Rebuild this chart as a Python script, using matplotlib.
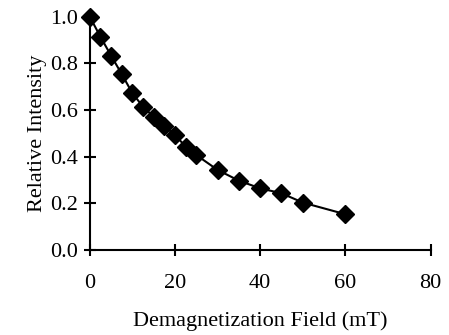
import matplotlib
matplotlib.use("Agg")
import matplotlib.pyplot as plt

field = [0, 2.5, 5, 7.5, 10, 12.5, 15, 17.5, 20, 22.5, 25, 30, 35, 40, 45, 50, 60]
intensity = [1.0, 0.914, 0.833, 0.754, 0.672, 0.614, 0.571, 0.531, 0.493,
             0.443, 0.407, 0.343, 0.297, 0.264, 0.243, 0.203, 0.153]
xticks = [0, 20, 40, 60, 80]
yticks = [0.0, 0.2, 0.4, 0.6, 0.8, 1.0]

plt.rcParams['font.family'] = 'Liberation Serif'
plt.rcParams['font.size'] = 16

fig = plt.figure(figsize=(4.49, 3.35), dpi=100)
ax = fig.add_axes([0.2, 0.254, 0.759, 0.696])

ax.plot(field, intensity, 'k-', lw=1.5, marker='D', markersize=9, clip_on=False)

ax.set_xlim(0, 80)
ax.set_ylim(0, 1.0)
ax.set_xticks(xticks)
ax.set_yticks(yticks)
ax.set_yticklabels(['%.1f' % v for v in yticks])
for s in ['top', 'right']:
    ax.spines[s].set_visible(False)
for s in ['left', 'bottom']:
    ax.spines[s].set_linewidth(1.5)
ax.tick_params(direction='inout', length=9, width=1.5)
ax.tick_params(axis='x', pad=13)
ax.tick_params(axis='y', pad=4)

ax.set_xlabel('Demagnetization Field (mT)', labelpad=13)
ax.set_ylabel('Relative Intensity', labelpad=2)

fig.savefig('out.png', dpi=100)
